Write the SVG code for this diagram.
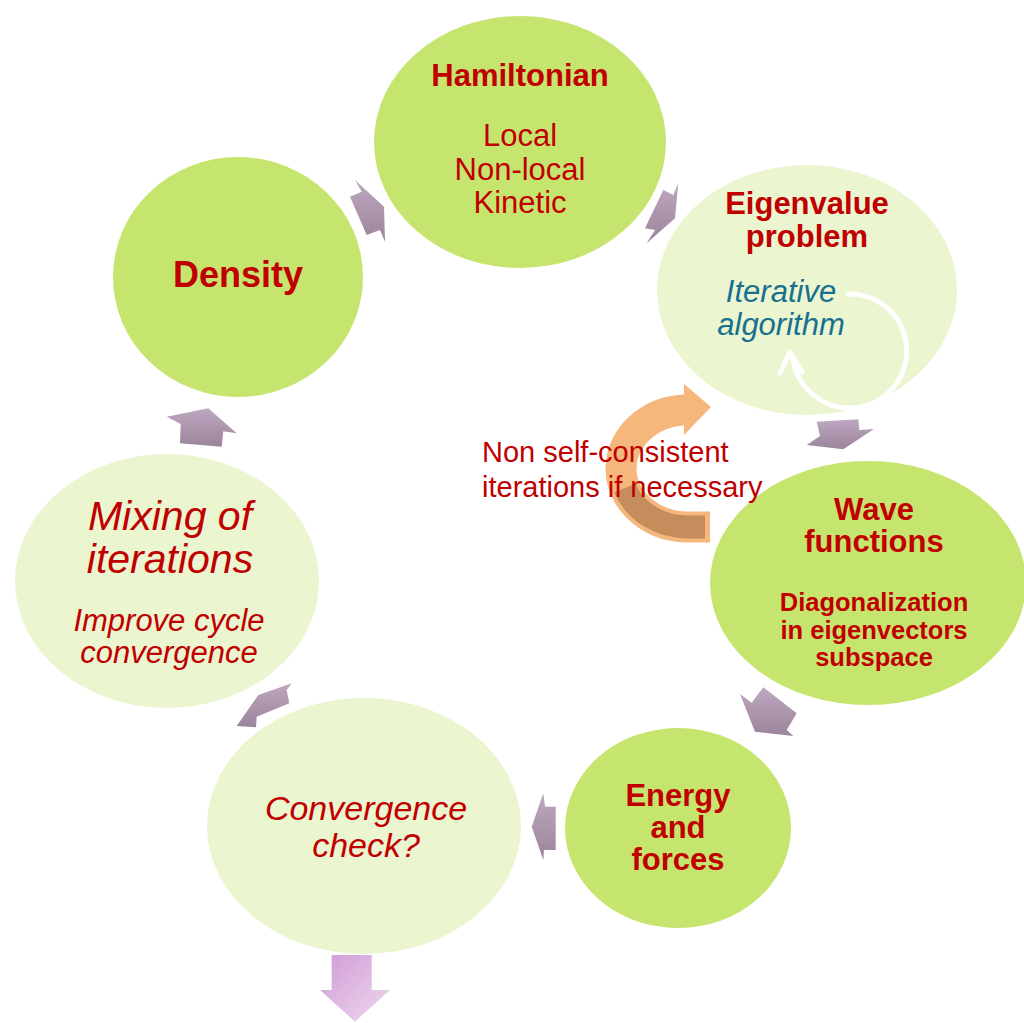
<svg xmlns="http://www.w3.org/2000/svg" width="1024" height="1023" viewBox="0 0 1024 1023">
  <defs>
    <linearGradient id="mauve" x1="0" y1="0" x2="0" y2="1">
      <stop offset="0" stop-color="#bea7c0"/>
      <stop offset="1" stop-color="#9b859c"/>
    </linearGradient>
    <linearGradient id="pink" x1="0" y1="0" x2="1" y2="1">
      <stop offset="0" stop-color="#cf9bd6"/>
      <stop offset="1" stop-color="#efd8ef"/>
    </linearGradient>
    <style>
      .strong { fill: #c6e56e; }
      .soft { fill: #ebf5cf; }
      .t { font-family: "Liberation Sans", Arial, sans-serif; fill: #c00000; text-anchor: middle; }
      .b { font-weight: bold; }
      .i { font-style: italic; }
      .flow { fill: url(#mauve); }
    </style>
  </defs>
  <rect width="1024" height="1023" fill="#ffffff"/>

  <!-- cycle nodes -->
  <g id="hamiltonian">
    <ellipse class="strong" cx="520" cy="142" rx="146" ry="126"/>
    <text class="t b" x="520" y="86" font-size="31">Hamiltonian</text>
    <text class="t" x="520" y="146" font-size="31">Local</text>
    <text class="t" x="520" y="180" font-size="31">Non-local</text>
    <text class="t" x="520" y="213" font-size="31">Kinetic</text>
  </g>

  <g id="eigenvalue">
    <ellipse class="soft" cx="807" cy="290" rx="150" ry="125"/>
    <text class="t b" x="807" y="214" font-size="31">Eigenvalue</text>
    <text class="t b" x="807" y="247" font-size="31">problem</text>
    <text class="t i" x="781" y="302" font-size="31" style="fill:#17708f">Iterative</text>
    <text class="t i" x="781" y="335" font-size="31" style="fill:#17708f">algorithm</text>
    <!-- inner loop arrow -->
    <path d="M848,294 A57,57 0 1 1 793,358" fill="none" stroke="#ffffff" stroke-width="5" stroke-linecap="round"/>
    <path d="M780,373 L790,352 L802,372" fill="none" stroke="#ffffff" stroke-width="5" stroke-linecap="round" stroke-linejoin="round"/>
  </g>

  <g id="wave-functions">
    <ellipse class="strong" cx="868" cy="583" rx="158" ry="122"/>
    <text class="t b" x="874" y="520" font-size="31">Wave</text>
    <text class="t b" x="874" y="552" font-size="31">functions</text>
    <text class="t b" x="874" y="611" font-size="25.5">Diagonalization</text>
    <text class="t b" x="874" y="639" font-size="25.5">in eigenvectors</text>
    <text class="t b" x="874" y="666" font-size="25.5">subspace</text>
  </g>

  <g id="energy">
    <ellipse class="strong" cx="678" cy="828" rx="113" ry="100"/>
    <text class="t b" x="678" y="806" font-size="31">Energy</text>
    <text class="t b" x="678" y="838" font-size="31">and</text>
    <text class="t b" x="678" y="870" font-size="31">forces</text>
  </g>

  <g id="convergence">
    <ellipse class="soft" cx="364" cy="826" rx="157" ry="128"/>
    <text class="t i" x="366" y="820" font-size="34">Convergence</text>
    <text class="t i" x="366" y="857" font-size="34">check?</text>
  </g>

  <g id="mixing">
    <ellipse class="soft" cx="167" cy="581" rx="152" ry="127"/>
    <text class="t i" x="170" y="530" font-size="41">Mixing of</text>
    <text class="t i" x="170" y="573" font-size="41">iterations</text>
    <text class="t i" x="169" y="631" font-size="31">Improve cycle</text>
    <text class="t i" x="169" y="663" font-size="31">convergence</text>
  </g>

  <g id="density">
    <ellipse class="strong" cx="238" cy="277" rx="125" ry="120"/>
    <text class="t b" x="238" y="287" font-size="36">Density</text>
  </g>

  <!-- non self-consistent loop -->
  <g id="nsc-loop">
    <path d="M710,527 L690,527 A67,58.5 0 0 1 686,410" fill="none" stroke="#f6b77d" stroke-width="31"/>
    <polygon points="684,384 711,407 684,435" fill="#f6b77d"/>
    <path d="M705,527 L690,527 A67,58.5 0 0 1 625,488" fill="none" stroke="#c58d5c" stroke-width="23"/>
    <text class="t" x="482" y="462" font-size="29" style="text-anchor:start">Non self-consistent</text>
    <text class="t" x="482" y="497" font-size="29" style="text-anchor:start">iterations if necessary</text>
  </g>

  <!-- connectors between the cycle steps -->
  <g id="connectors">
    <polygon class="flow" points="355,180 361.7,191.7 350,196.7 366.7,235 380,230 385,241.7 384,206.7"/>
    <polygon class="flow" points="678.3,183.3 673.3,195 663.3,190 645,228.3 655,230 646.7,243.3 675,218.3"/>
    <polygon class="flow" points="816.7,421.7 858.3,419.3 859.3,430 874,429 843.3,449.3 806.7,445 820,436"/>
    <polygon class="flow" points="740,694 751.7,702.7 763.3,687.3 796.7,713.3 786.7,730 793.3,736 755,731.7"/>
    <polygon class="flow" points="545,806.7 555.7,806.7 555.7,850 544,850 543.3,860 531.7,826.7 543.3,793.3"/>
    <polygon class="flow" points="258.3,695 291.7,683.3 286.7,690 289.3,703.3 256.7,716.7 256,727.3 236.7,726"/>
    <polygon class="flow" points="166.7,416.7 208.3,408.3 236.7,433.3 223.3,431.3 221.7,446.7 180,443.3 180.7,424"/>
    <polygon points="331.7,955 371.7,955 371.7,990 390,990 355,1021.7 320,990 331.7,990" fill="url(#pink)"/>
  </g>
</svg>
